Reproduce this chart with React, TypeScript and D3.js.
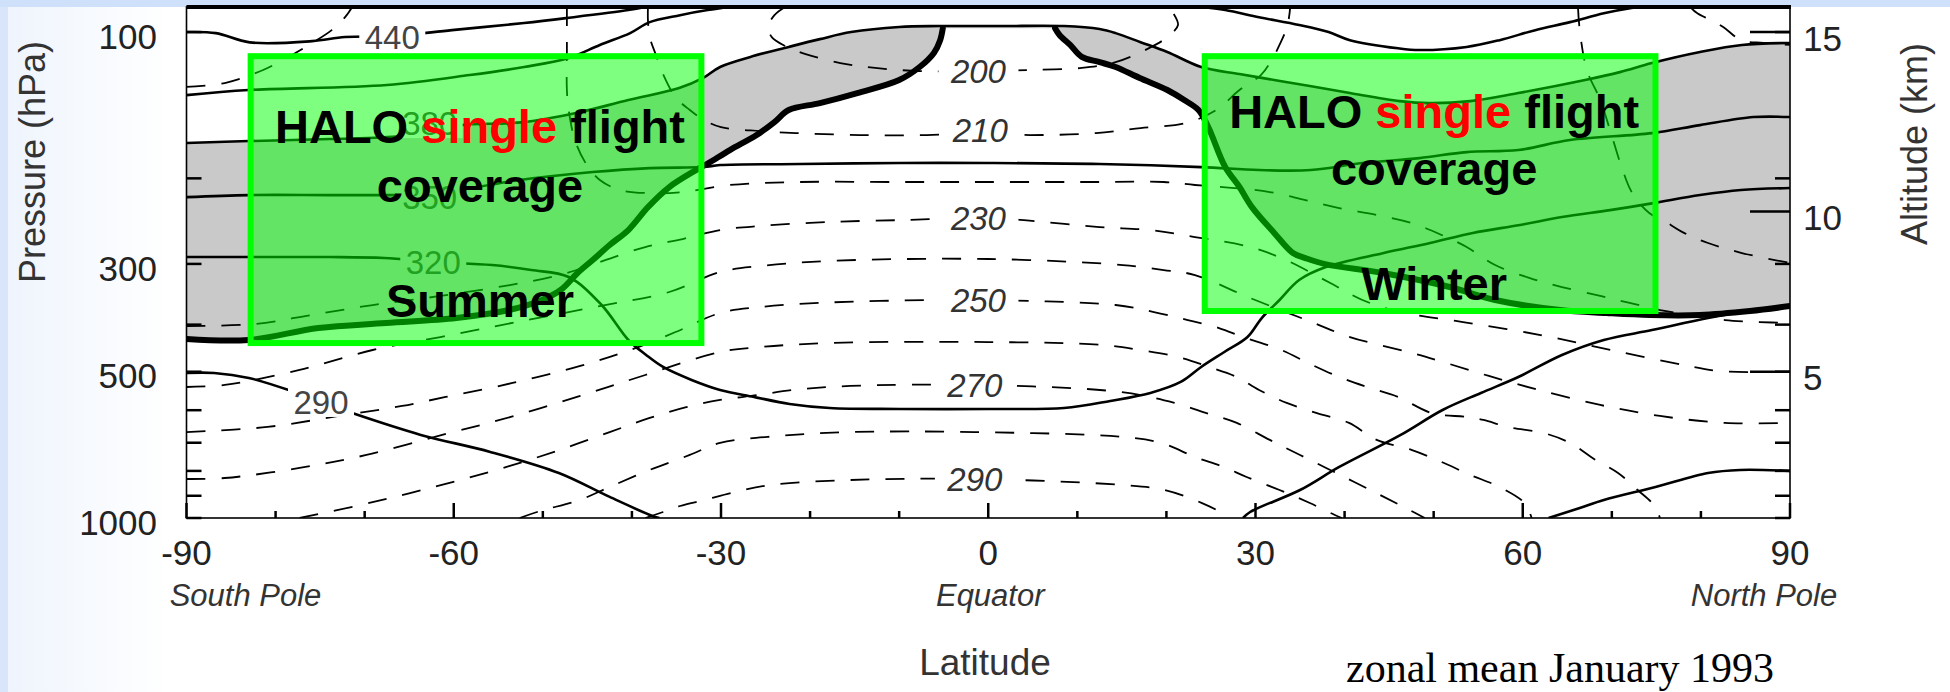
import React from "react";
import * as d3 from "d3";

type Pt = [number, number];

// axes
const latTicks = [-90, -80, -70, -60, -50, -40, -30, -20, -10, 0, 10, 20, 30, 40, 50, 60, 70, 80, 90];
const latLabels = [-90, -60, -30, 0, 30, 60, 90];
const latNames: [string, number][] = [["South Pole", -90], ["Equator", 0], ["North Pole", 90]];
const pTicks = [100, 200, 300, 400, 500, 600, 700, 800, 900, 1000];
const pLabels = [100, 300, 500, 1000];
const pTop = 88.8;
const altKm = [5, 10, 15];
const altHpa = [500, 234, 100];

// potential temperature (K), solid
const theta440S: Pt[] = [[-90, 100], [-86.7, 100.5], [-82.9, 105], [-75.9, 104.4], [-72.2, 102.4], [-66.9, 101.9], [-60.2, 99.1], [-52.1, 95.8], [-47.4, 93.6], [-40.4, 90.1], [-38.5, 88.8]];
const theta410S: Pt[] = [[-90, 134.8], [-83, 131.6], [-67.5, 128.5], [-58.2, 122.6], [-52.1, 118], [-47.1, 113.1], [-43.6, 106.3], [-40.2, 100.5], [-38, 95.4], [-34.6, 92.3], [-31.5, 90.1], [-29, 88.8]];
const theta410N: Pt[] = [[23.9, 88.8], [26.6, 90.1], [30.4, 93.2], [34.9, 96.7], [38.2, 100], [40.6, 103.9], [46, 108], [48.4, 108.9], [53.7, 107.3], [57.4, 103.9], [61.4, 99.1], [65.3, 95.4], [69.1, 91.5], [72.2, 89.2], [73.1, 88.8]];
const theta380: Pt[] = [[-90, 169.2], [-83, 167.6], [-73.9, 166], [-66, 163.7], [-62.7, 159.1], [-59.3, 155.4], [-52.1, 153.2], [-46.3, 146.8], [-40.4, 138], [-34.7, 130.4], [-32, 124.3], [-30.1, 118], [-26.7, 112.5], [-22.4, 107.3], [-18.9, 103.4], [-15.4, 100], [-10, 97.6], [-5.4, 97.2], [1.3, 97.2], [8.5, 97.2], [12.5, 98.6], [14.3, 100.5], [17.1, 104.9], [20.1, 109.9], [23.9, 118], [28.2, 122], [32.1, 125.5], [36.1, 129.1], [40.6, 133.5], [46.2, 138.7], [49.5, 140], [54.1, 138.7], [59.5, 133.5], [67, 125.5], [70.9, 120.9], [74.5, 115.8], [79.9, 109.9], [84.6, 106.3], [90, 105.3]];
const theta350: Pt[] = [[-90, 218.6], [-83, 216.5], [-73.9, 216.5], [-66, 216.5], [-62.7, 216.5], [-59.3, 211.4], [-52.6, 201.6], [-44.4, 194.1], [-38, 190.5], [-32, 189.6], [-30.1, 187.8], [-21.1, 186.9], [-9.9, 186], [0, 186], [12.5, 186.9], [23.9, 189.6], [30.4, 192.3], [36.2, 192.3], [42, 186], [48.4, 181.7], [53.7, 176.6], [59.5, 174.9], [65.3, 166.8], [74.5, 161.4], [79.9, 155.4], [85.9, 149.6], [90, 149.6]];
const theta320: Pt[] = [[-90, 290.4], [-82.9, 290.4], [-73.9, 290.4], [-67.8, 291.8], [-62.2, 297.3], [-55.7, 301.6], [-51.3, 308.8], [-47.1, 319.2], [-43.4, 364.5], [-40.4, 430.2], [-38.4, 461.9], [-36.5, 488.9], [-33.3, 519.9], [-30.1, 545.2], [-26.3, 563.5], [-22.3, 582.5], [-17.8, 593.8], [-9.9, 596.5], [0, 596.5], [8.5, 593.8], [13.7, 574.3], [18.2, 553], [21.6, 524.9], [23.9, 488.9], [26.5, 455.4], [29.1, 424.2], [30.7, 387.7], [32.7, 355.9], [34.9, 323.8], [37.9, 304.5], [44.4, 284.9], [49.6, 271.7], [54.4, 259], [59.7, 249.4], [64.4, 240.2], [69.8, 232.5], [74.5, 225.2], [79.9, 216.5], [84.5, 211.4], [90, 209.4]];
const theta290S: Pt[] = [[-90, 503], [-86.9, 503], [-83, 515], [-77.9, 550.4], [-74.9, 577], [-71.4, 608.3], [-63.7, 674.5], [-55.9, 731.1], [-48.2, 808], [-42.5, 905], [-37.4, 995.3], [-36.9, 1000]];
const theta290N: Pt[] = [[28.6, 1000], [29.4, 972], [35, 875.8], [39.4, 785.1], [46.3, 674.5], [51, 599.4], [55.3, 553], [59.5, 512.7], [64.4, 461.9], [69.1, 430.2], [74.5, 410.4], [80.8, 387.7], [85.5, 375], [90, 368]];
const theta260N: Pt[] = [[62.9, 1000], [66.4, 953.7], [69.1, 918.4], [74.9, 863.4], [80.8, 808], [84.4, 796.3], [90, 800]];

// dynamical tropopause
const tropoS: Pt[] = [[-90, 428.2], [-83, 430.2], [-75.2, 406.5], [-67.6, 397], [-59.7, 387.7], [-53.8, 373.3], [-50.1, 355.9], [-48, 339.5], [-46.1, 313.2], [-44.4, 294.5], [-42.5, 274.3], [-40.4, 255.5], [-38.2, 229.2], [-35.8, 208.4], [-32.8, 192.3], [-31.4, 186], [-29, 174.9], [-26, 162.9], [-24, 153.2], [-22.4, 144.7], [-18.9, 140], [-14.7, 133.5], [-10, 125.5], [-7.7, 118], [-6.1, 110.4], [-5.4, 103.9], [-5.1, 98.2]];
const tropoN: Pt[] = [[7.5, 98.2], [8, 101.4], [9.2, 106.3], [10.5, 112.5], [12.5, 115.3], [14.3, 118], [17, 124.3], [20.1, 131.6], [22, 138], [23.6, 144.7], [24.7, 156.9], [26.6, 189.6], [28.2, 208.4], [29.6, 229.2], [32.1, 259], [34.2, 284.9], [35.6, 291.8], [37.8, 300.2], [44.3, 313.2], [51.8, 334.7], [56.9, 355.9], [64.2, 373.3], [69.4, 378.6], [74.3, 382.2], [79.9, 382.2], [85.5, 375], [90, 366.3]];

// temperature (K), dashed
const t200: Pt[] = [[-22.8, 88.8], [-24, 92.3], [-24.7, 97.6], [-24.3, 102.4], [-22.8, 106.8], [-20.5, 111], [-16.6, 115.8], [-12.7, 118.5], [-7.7, 120.3], [-1.1, 120.3], [4.4, 119.7], [10.5, 118.5], [14.3, 115.3], [18.1, 107.8], [20.1, 102.4], [21.3, 96.7], [20.7, 91], [20.3, 88.8]];
const t200b: Pt[] = [[78.8, 88.8], [79.6, 91.5], [81.1, 94.5], [82.5, 97.6], [84.5, 103.9], [87, 105.3], [90, 106.3]];
const t210: Pt[] = [[-38.2, 88.8], [-38.2, 94.5], [-38, 102.4], [-37.3, 111.5], [-36.6, 120.9], [-35.1, 136.1], [-33.5, 144.7], [-31.9, 151.7], [-30, 156.9], [-25.6, 159.9], [-21.6, 161.4], [-14.4, 162.9], [-6.9, 162.9], [-1, 161.4], [4.7, 162.9], [12.1, 161.4], [17.1, 157.6], [22.2, 153.9], [25.6, 144.7], [28.2, 131.6], [30.6, 122.6], [31.8, 114.2], [32.8, 105.3], [33.6, 96.7], [33.9, 88.8]];
const t210b: Pt[] = [[66.2, 88.8], [66.4, 99.1], [67.2, 119.7], [68.7, 138], [69.9, 161.4], [71.1, 189.6], [72.3, 214.5], [74.2, 235.7], [75.7, 243.6], [78.1, 259], [80.8, 271.7], [84.6, 284.9], [90, 298.7]];
const t220: Pt[] = [[-47.3, 88.8], [-47.3, 93.2], [-47.3, 108.9], [-47.3, 131.6], [-47.1, 144.7], [-46.4, 166.8], [-45.2, 186], [-43.6, 201.6], [-41.3, 211.4], [-38, 214.5], [-34.3, 213.4], [-29, 206.4], [-21.1, 203.5], [-9.9, 203.5], [0, 203.5], [12.5, 203.5], [19.7, 203.5], [23.2, 206.4], [27.7, 209.4], [31.6, 213.4], [35.6, 221.7], [39.4, 230.3], [43.6, 237.9], [47.5, 247.1], [50.9, 261.6], [53.7, 276.9], [56.9, 301.6], [60.8, 320.8], [64.4, 334.7], [68.7, 349.2], [72, 360.8], [75.4, 373.3], [79.9, 384], [82.7, 391.4], [86.6, 395.1], [90, 397]];
const t230b: Pt[] = [[-90, 129.7], [-85.7, 127.3], [-81.4, 119.7], [-79.2, 114.2], [-75.9, 105.3], [-73.7, 99.1], [-72.2, 93.2], [-71.4, 88.8]];
const t230: Pt[] = [[-90, 402.7], [-82.4, 398.9], [-76, 382.2], [-69.1, 364.5], [-61.5, 349.2], [-53.7, 331.6], [-48.1, 316.2], [-43.6, 297.3], [-38.5, 276.9], [-34.3, 266.6], [-30.1, 255.5], [-25.6, 250.6], [-17.8, 245.9], [-9.3, 243.6], [-1.1, 241.3], [3.6, 243.6], [12.5, 252], [18.1, 255.5], [23.2, 264.1], [29.4, 276.9], [33.4, 294.5], [38.4, 328.5], [42, 355.9], [46.2, 376.8], [53.3, 395.1], [62, 420.2], [69.9, 451.1], [78.1, 484.3], [82, 498.3], [90, 500.7]];
const t240: Pt[] = [[-90, 537.5], [-85.7, 532.4], [-77.3, 495.9], [-69.1, 451.1], [-61.5, 424.2], [-52.9, 395.1], [-43.6, 366.3], [-35.8, 342.7], [-30.1, 311.7], [-25.6, 303], [-17.8, 295.8], [0, 293.1], [15.1, 301.6], [19.7, 308.8], [23.2, 316.2], [29.4, 352.6], [36.3, 395.1], [40.6, 424.2], [47.6, 457.6], [51.4, 479.7], [56.2, 510.2], [61.8, 545.2], [68.7, 585.3], [75.4, 616.6], [82.7, 637.3], [90, 637.3]];
const t250: Pt[] = [[-90, 665.6], [-80.9, 649.5], [-72.9, 616.6], [-65.8, 588.1], [-60.9, 563.5], [-53.4, 527.4], [-45.8, 486.6], [-40.2, 451.1], [-35.1, 414.3], [-30.1, 378.6], [-25.6, 368], [-17.8, 360.1], [-5.4, 355.9], [-1.1, 355.9], [14.3, 364.5], [18.6, 376.8], [22.4, 391.4], [25.9, 406.5], [28.6, 424.2], [32.9, 451.1], [35.9, 479.7], [39.4, 512.7], [42.5, 537.5], [46, 563.5], [49.8, 608.3], [53.7, 619.5], [55.6, 628.4], [58.3, 649.5], [62.4, 668.9], [65.3, 700.6], [68, 755.9], [70.7, 808], [72.9, 875.8], [74.8, 944.7], [75.4, 1000]];
const t260: Pt[] = [[-90, 831.2], [-85.7, 827.4], [-77.3, 788.8], [-69.8, 741.7], [-61.3, 674.5], [-53.6, 619.5], [-45.8, 560.8], [-38.5, 507.8], [-30.1, 455.4], [-25.5, 444.7], [-17.8, 436.4], [0, 434.4], [12.8, 440.5], [17, 451.1], [21.3, 466.3], [24.8, 488.9], [27.9, 512.7], [30.4, 545.2], [33.5, 579.6], [36.9, 608.3], [40.5, 637.3], [43.6, 690.7], [47.5, 724.2], [50.9, 766.7], [54.1, 815.4], [57.4, 863.4], [60.2, 931.6], [61, 1000]];
const t270: Pt[] = [[-77.3, 1000], [-70.5, 940.4], [-64.9, 888.4], [-59.3, 835.2], [-53.7, 781.4], [-48.1, 724.2], [-42.5, 665.6], [-38, 622.5], [-33.9, 591.3], [-30.1, 571.6], [-25.8, 558.2], [-22, 545.2], [-15.5, 534.9], [-1.5, 532.4], [14.8, 550.4], [20.9, 579.6], [24.5, 608.3], [27.9, 637.3], [31.6, 690.7], [35, 741.7], [39.5, 815.4], [44, 896.9], [47.3, 962.8], [49, 1000]];
const t280: Pt[] = [[-52.6, 1000], [-50.3, 967.4], [-45.9, 918.4], [-42.5, 863.4], [-38, 796.3], [-33.5, 741.7], [-30.1, 700.6], [-23.4, 677.7], [-15.5, 665.6], [-1.5, 665.6], [15.1, 681], [19.4, 700.6], [23.2, 748.7], [26.4, 785.1], [29, 823.5], [32.7, 875.8], [36.1, 931.6], [38.9, 985.9], [39.7, 1000]];
const t290: Pt[] = [[-38.5, 1000], [-36.5, 972], [-34.6, 944.7], [-31.9, 918.4], [-28.4, 884.2], [-24.5, 855.3], [-15.5, 835.2], [-1.5, 831.2], [15.1, 855.3], [19.8, 875.8], [24, 931.6], [26, 972], [26.8, 1000]];

const isentropes = [theta440S, theta410S, theta410N, theta380, theta350, theta320, theta290S, theta290N, theta260N];
const isotherms = [t200, t200b, t210, t210b, t220, t230b, t230, t240, t250, t260, t270, t280, t290];

// contour labels [value, lat, p]
const thetaLabels: [number, number, number][] = [[440, -66.9, 102.4], [380, -62.7, 153.9], [350, -62.7, 218.6], [320, -62.3, 297.3], [290, -74.9, 577]];
const tempLabels: [number, number, number][] = [[200, -1.1, 120.3], [210, -0.9, 159.1], [230, -1.1, 241.3], [250, -1.1, 355.9], [270, -1.5, 532.4], [290, -1.5, 831.2]];
const inLowerStrat = [350, 320];

// HALO coverage boxes
const haloLatS = [-82.8, -32.2];
const haloLatN = [24.3, 74.9];
const haloPTop = 112.1;
const haloPBotS = 436.5;
const haloPBotN = 375;

const SANS = "'Liberation Sans', Arial, Helvetica, sans-serif";

export default function App() {
  const x = d3.scaleLinear().domain([-90, 90]).range([186.5, 1790]);
  const y = d3.scaleLog().domain([1000, pTop]).range([518, 7]);
  const yAlt = d3.scaleLinear().domain(altKm).range(altHpa.map((p) => y(p)));
  const line = d3
    .line<Pt>()
    .x((d) => x(d[0]))
    .y((d) => y(d[1]))
    .curve(d3.curveCatmullRom.alpha(0.5));

  const grayPath =
    line(theta380)! +
    line([...tropoN].reverse())!.replace(/^M/, "L") +
    line([...tropoS].reverse())!.replace(/^M/, "L") +
    "Z";

  const x0 = x(-90), x1 = x(90), yb = y(1000), yt = y(pTop);

  const boxes = [
    { lat: haloLatS, pBot: haloPBotS, season: "Summer", l1: 87, l2: 146, l3: 261 },
    { lat: haloLatN, pBot: haloPBotN, season: "Winter", l1: 72, l2: 129, l3: 244 },
  ];

  return (
    <svg width={1950} height={692} style={{ position: "absolute", left: 0, top: 0 }} fontFamily={SANS}>
      <defs>
        <linearGradient id="bgLeft" x1="0" x2="1" y1="0" y2="0">
          <stop offset="0" stopColor="#eef4fd" />
          <stop offset="1" stopColor="#ffffff" />
        </linearGradient>
        <clipPath id="plot">
          <rect x={x0} y={yt} width={x1 - x0} height={yb - yt} />
        </clipPath>
      </defs>

      <rect width={1950} height={692} fill="#ffffff" />
      <rect x={0} y={0} width={170} height={692} fill="url(#bgLeft)" />
      <rect x={0} y={0} width={8} height={692} fill="#d8e5fa" />
      <rect x={0} y={0} width={1950} height={7} fill="#cfe0fa" />

      <g clipPath="url(#plot)">
        <path d={grayPath} fill="#c9c9c9" />
        {isotherms.map((d, i) => (
          <path key={"t" + i} d={line(d)!} fill="none" stroke="#000" strokeWidth={1.8} strokeDasharray="19 16" />
        ))}
        {isentropes.map((d, i) => (
          <path key={"s" + i} d={line(d)!} fill="none" stroke="#000" strokeWidth={2.6} />
        ))}
        <path d={line(tropoS)!} fill="none" stroke="#000" strokeWidth={6} strokeLinecap="round" />
        <path d={line(tropoN)!} fill="none" stroke="#000" strokeWidth={6} strokeLinecap="round" />

        {tempLabels.map(([v, la, p]) => (
          <g key={"tl" + v}>
            <rect x={x(la) - 40} y={y(p) - 15} width={80} height={30} fill="#ffffff" />
            <text x={x(la)} y={y(p)} dy="0.36em" textAnchor="middle" fontSize={33} fontStyle="italic" fill="#333">
              {v}
            </text>
          </g>
        ))}
        {thetaLabels.map(([v, la, p]) => (
          <g key={"sl" + v}>
            <rect x={x(la) - 33} y={y(p) - 15} width={66} height={30} fill={inLowerStrat.includes(v) ? "#c9c9c9" : "#ffffff"} />
            <text x={x(la)} y={y(p)} dy="0.36em" textAnchor="middle" fontSize={33} fill="#444">
              {v}
            </text>
          </g>
        ))}
      </g>

      {/* frame */}
      <rect x={x0} y={yt} width={x1 - x0} height={yb - yt} fill="none" stroke="#000" strokeWidth={1.6} />
      <line x1={x0} x2={x1 + 1} y1={yt} y2={yt} stroke="#000" strokeWidth={4} />

      {/* ticks */}
      {pTicks.map((p) => (
        <g key={"pt" + p}>
          <line x1={x0} x2={x0 + 15} y1={y(p)} y2={y(p)} stroke="#000" strokeWidth={2.5} />
          <line x1={x1 - 15} x2={x1} y1={y(p)} y2={y(p)} stroke="#000" strokeWidth={2.5} />
        </g>
      ))}
      {altKm.map((k) => (
        <line key={"at" + k} x1={x1 - 40} x2={x1} y1={yAlt(k)} y2={yAlt(k)} stroke="#000" strokeWidth={2.5} />
      ))}
      {latTicks.map((la) => (
        <line key={"lt" + la} x1={x(la)} x2={x(la)} y1={yb} y2={yb - (la % 30 === 0 ? 15 : 7)} stroke="#000" strokeWidth={2.5} />
      ))}

      {/* tick labels */}
      {pLabels.map((p) => (
        <text key={"pl" + p} x={157} y={y(p) + 4} dy="0.36em" textAnchor="end" fontSize={35} fill="#222">
          {p}
        </text>
      ))}
      {altKm.map((k) => (
        <text key={"al" + k} x={1803} y={yAlt(k) + 6} dy="0.36em" textAnchor="start" fontSize={35} fill="#222">
          {k}
        </text>
      ))}
      {latLabels.map((la) => (
        <text key={"ll" + la} x={x(la)} y={565} textAnchor="middle" fontSize={35} fill="#222">
          {la}
        </text>
      ))}
      {latNames.map(([n, la]) => (
        <text key={n} x={x(la) + (la === -90 ? 59 : la === 90 ? -26 : 2)} y={606} textAnchor="middle" fontSize={31} fontStyle="italic" fill="#333">
          {n}
        </text>
      ))}

      <text transform="translate(45,162) rotate(-90)" textAnchor="middle" fontSize={36} fill="#333">
        Pressure (hPa)
      </text>
      <text transform="translate(1927,144) rotate(-90)" textAnchor="middle" fontSize={36} fill="#333">
        Altitude (km)
      </text>
      <text x={985} y={675} textAnchor="middle" fontSize={37} fill="#333">
        Latitude
      </text>
      <text x={1346} y={682} fontSize={42} fontFamily="'Liberation Serif', 'Times New Roman', serif" fill="#000">
        zonal mean January 1993
      </text>

      {/* HALO coverage boxes */}
      {boxes.map((b) => {
        const bx0 = x(b.lat[0]);
        const bx1 = x(b.lat[1]);
        const by0 = y(haloPTop);
        const by1 = y(b.pBot);
        const cx = (bx0 + bx1) / 2 + 4;
        return (
          <g key={b.season}>
            <rect x={bx0} y={by0} width={bx1 - bx0} height={by1 - by0} fill="rgba(0,255,0,0.5)" stroke="#00ff00" strokeWidth={6} />
            <text x={cx} y={by0 + b.l1} textAnchor="middle" fontSize={47} fontWeight="bold" fill="#000">
              <tspan>{"HALO "}</tspan>
              <tspan fill="#ff0000">single</tspan>
              <tspan>{" flight"}</tspan>
            </text>
            <text x={cx} y={by0 + b.l2} textAnchor="middle" fontSize={47} fontWeight="bold" fill="#000">
              coverage
            </text>
            <text x={cx} y={by0 + b.l3} textAnchor="middle" fontSize={47} fontWeight="bold" fill="#000">
              {b.season}
            </text>
          </g>
        );
      })}
    </svg>
  );
}
